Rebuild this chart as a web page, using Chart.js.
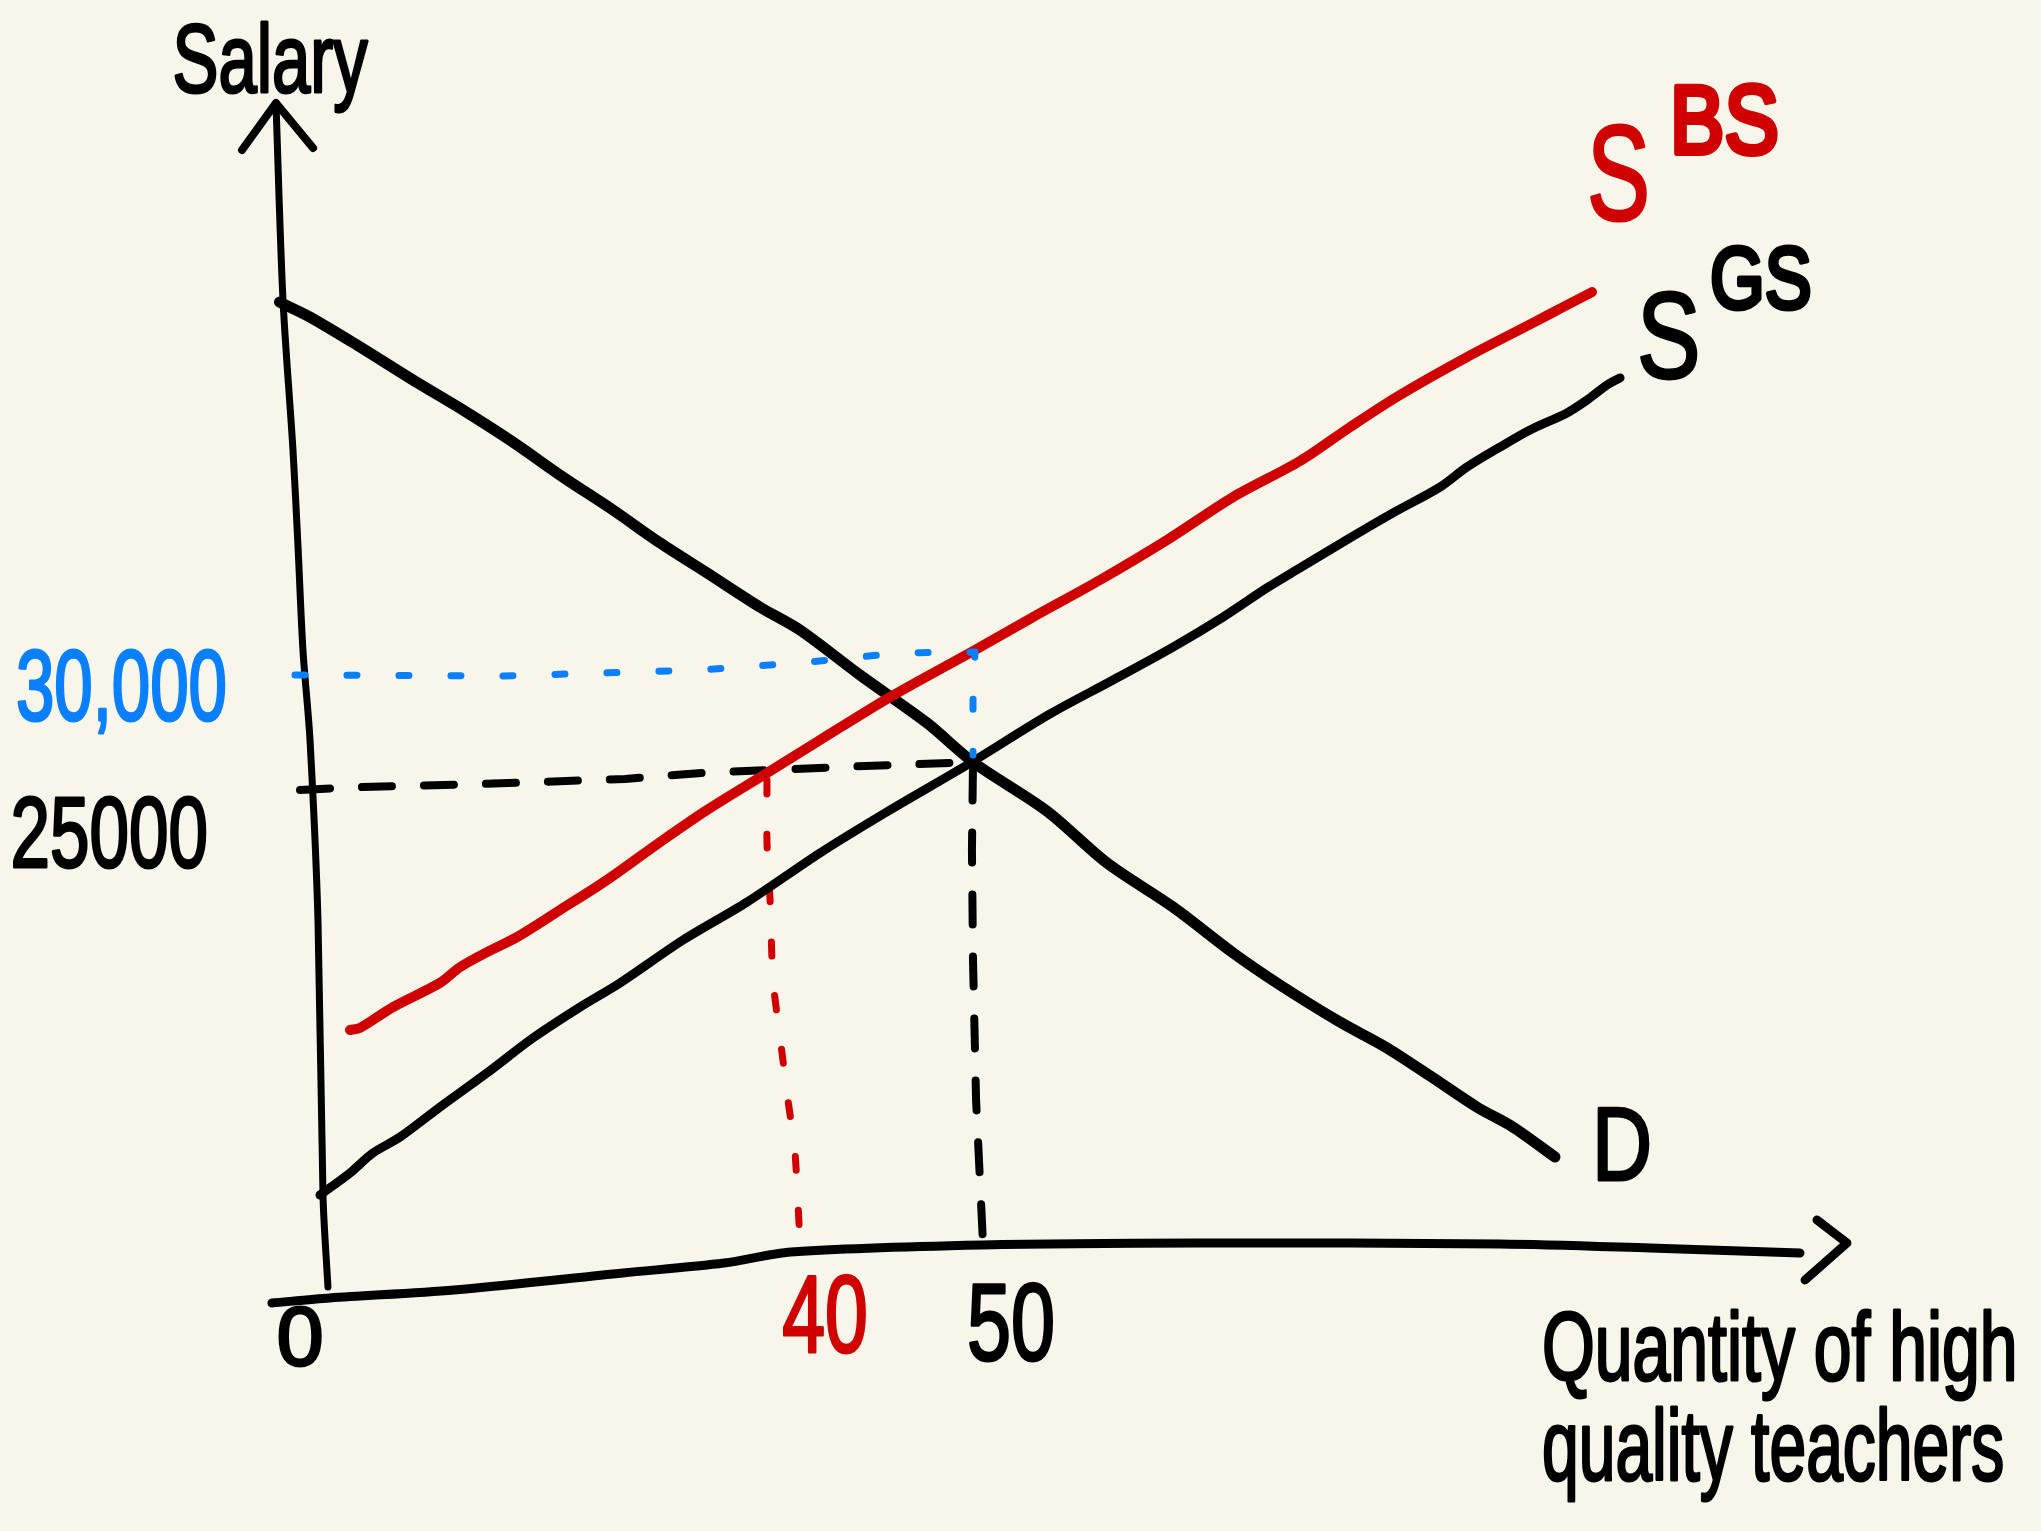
<!DOCTYPE html>
<html>
<head>
<meta charset="utf-8">
<script src="https://cdn.jsdelivr.net/npm/chart.js@4/dist/chart.umd.min.js"></script>
<style>
html,body{margin:0;padding:0;background:#f8f6eb;overflow:hidden;}
#wrap{width:2041px;height:1531px;}
canvas{display:block;}
</style>
</head>
<body>
<div id="wrap"><canvas id="c" width="2041" height="1531"></canvas></div>
<script>
// ---- tick labels ----
const xTickValues = [0, 40, 50];
const xTickLabels = ['0', '40', '50'];
const yTickValues = [25000, 30000];
const yTickLabels = ['25000', '30,000'];

// ---- hand-drawn axes (quantity, salary) ----
const yAxisQ = [-2.56, -2.03, -1.28, -0.90, -0.53, 0, 0.60, 0.98, 1.35];
const yAxisS = [57456, 48000, 40800, 36144, 31200, 26880, 18240, 4944, 624];
const yArrowQ = [-5.11, -2.56, 0.23];
const yArrowS = [55200, 57456, 55296];
const xAxisQ = [-2.86, 1.50, 10.83, 23.53, 31.13, 36.17, 50.53, 66.92, 89.47, 100.75, 112.03];
const xAxisS = [-144, 96, 480, 1296, 1776, 2304, 2640, 2736, 2688, 2496, 2256];
const xArrowQ = [113.31, 115.56, 112.41];
const xArrowS = [3840, 2736, 960];

// ---- demand D ----
const demandQ = [-2.3, 0, 3.53, 7.74, 11.50, 15.26, 19.02, 22.78, 26.32, 29.85, 33.83, 36.84, 41.35, 46.39, 49.85, 55.41, 59.92, 64.89, 69.40, 72.93, 77.44, 80.98, 84.44, 87.74, 90.45, 93.61];
const demandS = [47900, 47180, 45840, 44160, 42720, 41180, 39500, 37920, 36340, 34900, 33260, 32160, 30000, 27700, 25820, 23470, 20980, 18860, 16660, 15120, 13340, 12100, 10660, 9260, 8300, 6860];

// ---- supply, government schools S^GS ----
const supplyGsQ = [0.75, 3.01, 4.74, 6.77, 9.77, 13.31, 16.77, 20.30, 23.31, 28.05, 32.86, 38.35, 43.61, 49.40, 55.64, 60.38, 64.89, 68.65, 71.95, 74.44, 78.20, 81.43, 84.96, 86.99, 89.47, 91.73, 94.51, 96.02, 97.52, 98.50];
const supplyGsS = [5040, 6100, 7060, 7820, 9260, 10900, 12580, 14060, 15220, 17280, 19100, 21460, 23520, 25680, 28130, 29760, 31340, 32780, 34180, 35140, 36580, 37780, 39020, 39980, 40940, 41760, 42580, 43200, 43920, 44260];

// ---- supply, boarding schools S^BS ----
const supplyBsQ = [3.01, 3.76, 6.24, 9.77, 11.28, 13.31, 15.56, 18.80, 22.33, 26.32, 29.85, 34.36, 38.35, 43.61, 49.85, 54.36, 59.40, 64.44, 69.40, 74.44, 78.20, 81.95, 86.99, 91.95, 94.21, 96.39];
const supplyBsS = [12960, 13060, 14060, 15220, 15980, 16700, 17420, 18720, 20160, 21980, 23520, 25300, 26880, 28940, 31150, 32780, 34560, 36480, 38540, 40270, 41900, 43440, 45260, 46900, 47660, 48380];

// ---- guide lines ----
const guide30Q = [-1.13, 14.29, 29.32, 36.84, 44.36, 50.0, 49.85, 49.85];
const guide30S = [30000, 29950, 30240, 30580, 31060, 31100, 28800, 26160];
const guide25Q = [-0.75, 3.76, 13.01, 23.68, 29.47, 41.73, 49.85, 49.77, 49.85, 50.08, 50.60];
const guide25S = [24480, 24620, 24770, 25010, 25300, 25630, 25820, 21600, 16320, 9600, 2740];
const guide40Q = [34.36, 34.36, 34.59, 34.81, 35.34, 35.94, 36.47, 36.84];
const guide40S = [24960, 21940, 19200, 15360, 12620, 9600, 7060, 2780];

const BLACK = '#000000', RED = '#d10000', BLUE = '#0a80ff';
const pts = (xs, ys) => xs.map((x, i) => ({ x: x, y: ys[i] }));
function line(label, xs, ys, color, width, dash, order, tension) {
  return {
    label: label, data: pts(xs, ys), showLine: true,
    borderColor: color, backgroundColor: color, borderWidth: width,
    borderDash: dash || [], borderCapStyle: 'round', borderJoinStyle: 'round',
    pointRadius: 0, pointHoverRadius: 0,
    tension: tension === undefined ? 0.3 : tension, fill: false, order: order
  };
}

function drawText(ctx, txt, px, py, o) {
  ctx.save();
  ctx.translate(px, py);
  ctx.scale(o.sx || 1, 1);
  ctx.font = (o.weight || 400) + ' ' + o.size + 'px "Liberation Sans", Arial, sans-serif';
  ctx.textAlign = o.align || 'left';
  ctx.textBaseline = 'alphabetic';
  ctx.fillStyle = o.color || BLACK;
  ctx.strokeStyle = o.color || BLACK;
  ctx.lineJoin = 'round';
  ctx.lineWidth = o.stroke || 3;
  ctx.fillText(txt, 0, 0);
  ctx.strokeText(txt, 0, 0);
  ctx.restore();
}

const sketchText = {
  id: 'sketchText',
  afterDatasetsDraw(chart, args, opts) {
    const ctx = chart.ctx, xs = chart.scales.x, ys = chart.scales.y;
    xTickValues.forEach((v, i) => {
      const o = opts.xTicks[i];
      drawText(ctx, xTickLabels[i], xs.getPixelForValue(v) + o.dx, ys.getPixelForValue(0) + o.dy, o);
    });
    yTickValues.forEach((v, i) => {
      const o = opts.yTicks[i];
      drawText(ctx, yTickLabels[i], xs.getPixelForValue(0) + o.dx, ys.getPixelForValue(v) + o.dy, o);
    });
    opts.notes.forEach(n => drawText(ctx, n.text, xs.getPixelForValue(n.q), ys.getPixelForValue(n.s), n));
  }
};

new Chart(document.getElementById('c'), {
  type: 'scatter',
  data: {
    datasets: [
      line('guide30', guide30Q, guide30S, BLUE, 7, [10, 42], 1, 0),
      line('S^BS', supplyBsQ, supplyBsS, RED, 10, null, 2),
      line('D', demandQ, demandS, BLACK, 11, null, 3),
      line('S^GS', supplyGsQ, supplyGsS, BLACK, 9, null, 4),
      line('guide25', guide25Q, guide25S, BLACK, 8, [30, 32], 5, 0),
      line('guide40', guide40Q, guide40S, RED, 7, [14, 40], 6, 0.2),
      line('yAxis', yAxisQ, yAxisS, BLACK, 7, null, 7),
      line('yArrow', yArrowQ, yArrowS, BLACK, 8, null, 8, 0),
      line('xAxis', xAxisQ, xAxisS, BLACK, 9, null, 9),
      line('xArrow', xArrowQ, xArrowS, BLACK, 9, null, 10, 0)
    ]
  },
  options: {
    responsive: false,
    animation: false,
    layout: { padding: 0 },
    scales: {
      x: { type: 'linear', min: -23.308, max: 130.15, display: false },
      y: { type: 'linear', min: -11088, max: 62400, display: false }
    },
    plugins: {
      legend: { display: false },
      tooltip: { enabled: false },
      sketchText: {
        xTicks: [
          { dx: -10, dy: 65, align: 'center', size: 84, sx: 1.0, color: BLACK },
          { dx: -17, dy: 52, align: 'center', size: 110, sx: 0.7, color: RED },
          { dx: 36, dy: 60, align: 'center', size: 110, sx: 0.72, color: BLACK }
        ],
        yTicks: [
          { dx: -102, dy: 88, align: 'right', size: 100, sx: 0.71, color: BLACK },
          { dx: -83, dy: 45, align: 'right', size: 100, sx: 0.69, color: BLUE }
        ],
        notes: [
          { text: 'Salary', q: -3.0, s: 57980, align: 'center', size: 97, sx: 0.71, color: BLACK },
          { text: 'S', q: 96.02, s: 51840, size: 135, sx: 0.7, color: RED },
          { text: 'BS', q: 102.26, s: 55056, size: 97, sx: 0.84, color: RED, stroke: 6 },
          { text: 'S', q: 99.77, s: 44256, size: 122, sx: 0.78, color: BLACK },
          { text: 'GS', q: 105.26, s: 47616, size: 88, sx: 0.8, color: BLACK, stroke: 5 },
          { text: 'D', q: 96.39, s: 5760, size: 104, sx: 0.8, color: BLACK },
          { text: 'Quantity of high', q: 92.63, s: -3840, size: 97, sx: 0.70, color: BLACK },
          { text: 'quality teachers', q: 92.63, s: -8640, size: 100, sx: 0.66, color: BLACK }
        ]
      }
    }
  },
  plugins: [sketchText]
});
</script>
</body>
</html>
